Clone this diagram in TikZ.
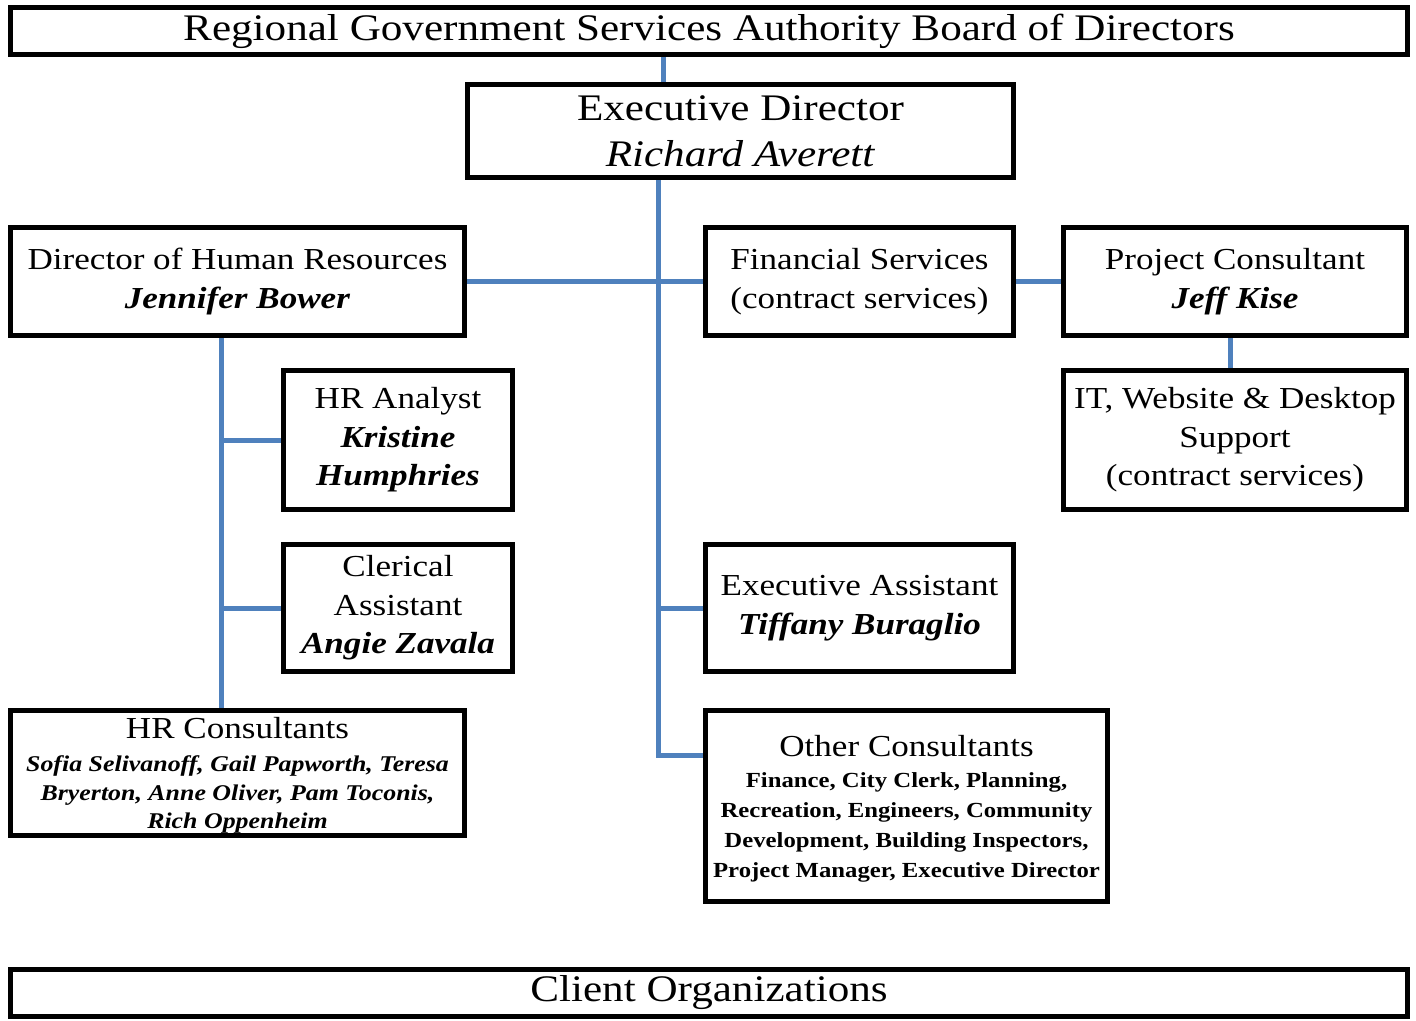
\documentclass[tikz,border=0pt]{standalone}
\usepackage{fontspec}
\setmainfont{Liberation Serif}[FakeStretch=1.15]
\definecolor{linkblue}{HTML}{4F81BD}
\newcommand{\namelist}[2]{%
  {#1\begin{tabular}[t]{@{}c@{}}#2\end{tabular}}}
\begin{document}
\begin{tikzpicture}[x=1pt,y=-1pt,
  box/.style={draw=black, line width=5pt, inner sep=0pt, align=center,
              font=\fontsize{30.5}{38.5}\selectfont},
  bigbox/.style={box, font=\fontsize{37.5}{46}\selectfont},
  boxtext/.style={inner sep=0pt, align=center, font=\fontsize{30.5}{38.5}\selectfont},
  conn/.style={draw=linkblue, line width=5pt}]
\useasboundingbox (0,0) rectangle (1416,1020);

% top and bottom bars
\node[bigbox, minimum width=1397pt, minimum height=47pt] (board) at (709,31)
  {Regional Government Services Authority Board of Directors};
\node[bigbox, minimum width=1397pt, minimum height=47pt] (client) at (709,993)
  {Client Organizations};

% executive level
\node[bigbox, minimum width=546pt, minimum height=93pt] (exec) at (740.5,131)
  {Executive Director\\\textit{Richard Averett}};

% second row
\node[box, minimum width=454pt, minimum height=108pt] (hr) at (237.5,281.5)
  {Director of Human Resources\\\textbf{\textit{Jennifer Bower}}};
\node[box, minimum width=308pt, minimum height=108pt] (fin) at (859.5,281.5)
  {Financial Services\\(contract services)};
\node[box, minimum width=343pt, minimum height=108pt] (proj) at (1235,281.5)
  {Project Consultant\\\textbf{\textit{Jeff Kise}}};

% HR staff
\node[box, minimum width=229pt, minimum height=139pt] (hra) at (398,440)
  {HR Analyst\\\textbf{\textit{Kristine}}\\\textbf{\textit{Humphries}}};
\node[box, minimum width=229pt, minimum height=127pt] (cler) at (398,608)
  {Clerical\\Assistant\\\textbf{\textit{Angie Zavala}}};
\node[box, minimum width=454pt, minimum height=125pt] (hrc) at (237.5,773) {};
\node[boxtext] (hrc text) at ([yshift=-4pt]hrc.center)
  {HR Consultants\\[-5pt]
   \namelist{\fontsize{22.5}{28.5}\selectfont\bfseries\itshape}
    {Sofia Selivanoff, Gail Papworth, Teresa\\Bryerton, Anne Oliver, Pam Toconis,\\Rich Oppenheim}};

% IT support
\node[box, minimum width=343pt, minimum height=139pt] (it) at (1235,440)
  {IT, Website \& Desktop\\Support\\(contract services)};

% executive staff
\node[box, minimum width=308pt, minimum height=127pt] (ea) at (859.5,608)
  {Executive Assistant\\\textbf{\textit{Tiffany Buraglio}}};
\node[box, minimum width=402pt, minimum height=191pt] (oc) at (906.5,806) {};
\node[boxtext] (oc text) at ([yshift=-5pt]oc.center)
  {Other Consultants\\[-7.5pt]
   \namelist{\fontsize{21.5}{30}\selectfont\bfseries}
    {Finance, City Clerk, Planning,\\Recreation, Engineers, Community\\
     Development, Building Inspectors,\\Project Manager, Executive Director}};

% reporting lines
\coordinate (top) at (663,0);
\coordinate (trunk) at (658,0);
\coordinate (hrspine) at (221,0);

\draw[conn] (board.south -| top) -- (exec.north -| top);
\draw[conn] (exec.south -| trunk) |- ([yshift=51pt]oc.west);
\draw[conn] (hr.east) -- (fin.west);
\draw[conn] (trunk |- ea.west) -- (ea.west);
\draw[conn] (fin.east) -- (proj.west);
\draw[conn] ([xshift=-5pt]proj.south) -- ([xshift=-5pt]it.north);
\draw[conn] (hr.south -| hrspine) -- (hrc.north -| hrspine);
\draw[conn] (hrspine |- hra.west) -- (hra.west);
\draw[conn] (hrspine |- cler.west) -- (cler.west);
\end{tikzpicture}
\end{document}
